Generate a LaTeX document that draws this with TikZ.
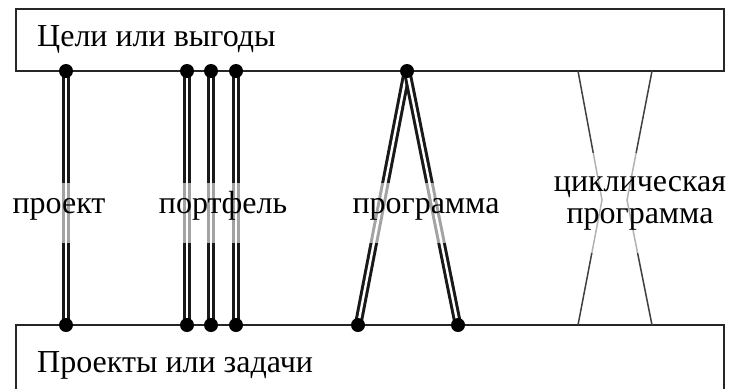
\documentclass[tikz,border=0pt]{standalone}
\usepackage{fontspec}
\setmainfont{Liberation Serif}
\begin{document}
\begin{tikzpicture}[x=1bp,y=-1bp,
  box/.style={draw=black!85, line width=2bp, fill=white},
  dbl/.style={draw=black!90, line width=3bp, double=white, double distance=2.4bp},
  thinline/.style={draw=black!75, line width=1.5bp},
  dot/.style={circle, fill=black, inner sep=0pt, minimum size=14bp},
  lbl/.style={fill=white, fill opacity=0.6, text opacity=1, font=\fontsize{32bp}{32bp}\selectfont, inner sep=0bp, text height=30bp, text depth=30bp, text=black},
  boxtext/.style={font=\fontsize{32bp}{34bp}\selectfont, anchor=base west, inner sep=0pt, text=black}]
\useasboundingbox (0,0) rectangle (730,388);
% boxes
\draw[box] (16,9) rectangle (724,71);
\draw[box] (16,325) rectangle (724,390);
\node[boxtext] (topt) at (37,46) {Цели или выгоды};
\node[boxtext] (bott) at (37,372) {Проекты или задачи};
% coordinates
\coordinate (a1) at (66,71);  \coordinate (a2) at (66,325);
\coordinate (p1) at (187,71); \coordinate (p2) at (187,325);
\coordinate (q1) at (211,71); \coordinate (q2) at (211,325);
\coordinate (r1) at (236,71); \coordinate (r2) at (236,325);
\coordinate (g0) at (407,71); \coordinate (gl) at (358,325); \coordinate (gr) at (458,325);
\coordinate (c1) at (578,71); \coordinate (c2) at (602,200); \coordinate (c3) at (578,325);
\coordinate (d1) at (652,71); \coordinate (d2) at (627,200); \coordinate (d3) at (652,325);
% connectors
\draw[dbl] (a1) -- (a2);
\draw[dbl] (p1) -- (p2);
\draw[dbl] (q1) -- (q2);
\draw[dbl] (r1) -- (r2);
\draw[dbl] (g0) -- (gl);
\draw[dbl] (g0) -- (gr);
\draw[thinline] (c1) -- (c2) -- (c3);
\draw[thinline] (d1) -- (d2) -- (d3);
% dots
\foreach \n in {a1,a2,p1,p2,q1,q2,r1,r2,g0,gl,gr} \node[dot] (dot\n) at (\n) {};
% labels
\node[lbl, anchor=base] (l1) at (59,213) {проект};
\node[lbl, anchor=base] (l2) at (223,213) {портфель};
\node[lbl, anchor=base] (l3) at (426,213) {программа};
\node[fill=white, fill opacity=0.6, text opacity=1, text=black, inner sep=0pt,
      minimum height=100bp, align=center,
      font=\fontsize{32bp}{32bp}\selectfont] (l4) at (640,203) {циклическая\\программа};
\end{tikzpicture}
\end{document}
